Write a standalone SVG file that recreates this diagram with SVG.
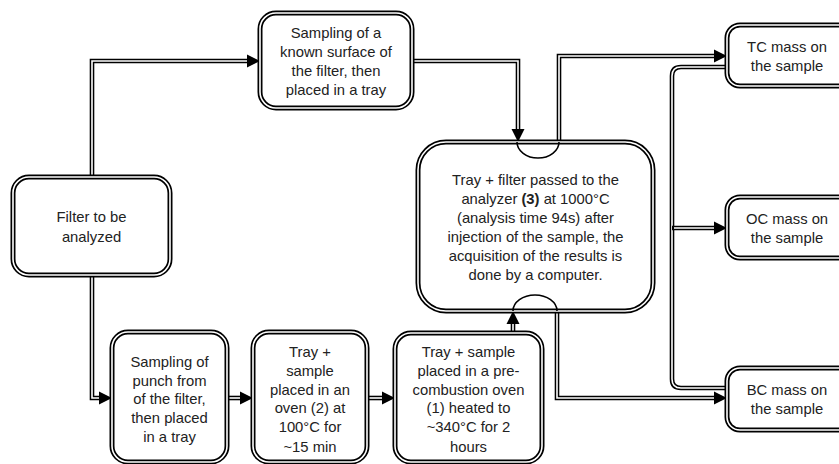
<svg xmlns="http://www.w3.org/2000/svg" xmlns:xlink="http://www.w3.org/1999/xlink" width="839" height="464" viewBox="0 0 839 464">
<style>
.bo{fill:#fff;stroke:#000;stroke-width:5}
.bi{fill:none;stroke:#fff;stroke-width:1.6}
.co{fill:none;stroke:#000;stroke-width:4.6}
.ci{fill:none;stroke:#fff;stroke-width:1.6}
.arc{fill:none;stroke:#000;stroke-width:1.6}
text{font-family:"Liberation Sans",Arial,sans-serif;font-size:14.8px;fill:#222;text-anchor:middle}
</style>
<defs>
<path id="ah" d="M0,0 L-13,-6.5 L-13,6.5 Z" fill="#000"/>
</defs>
<rect width="839" height="464" fill="#fff"/>
<g id="connectors">
<path class="co" d="M92,177 V61 H248"/><path class="ci" d="M92,177 V61 H248"/>
<use xlink:href="#ah" transform="translate(260,61)"/>
<path class="co" d="M92,275 V398 H100"/><path class="ci" d="M92,275 V398 H100"/>
<use xlink:href="#ah" transform="translate(112,398)"/>
<path class="co" d="M412,61 H518 V130"/><path class="ci" d="M412,61 H518 V130"/>
<use xlink:href="#ah" transform="translate(518,142) rotate(90)"/>
<path class="co" d="M559,142 V56 H715"/><path class="ci" d="M559,142 V56 H715"/>
<use xlink:href="#ah" transform="translate(727,56)"/>
<path class="co" d="M227,398 H241"/><path class="ci" d="M227,398 H241"/>
<use xlink:href="#ah" transform="translate(253,398)"/>
<path class="co" d="M367,398 H383"/><path class="ci" d="M367,398 H383"/>
<use xlink:href="#ah" transform="translate(395,398)"/>
<path class="co" d="M513,333 V323"/><path class="ci" d="M513,333 V323"/>
<use xlink:href="#ah" transform="translate(513,311) rotate(-90)"/>
<path class="co" d="M557,311 V398 H715"/><path class="ci" d="M557,311 V398 H715"/>
<use xlink:href="#ah" transform="translate(727,398)"/>
<path class="co" d="M727,67 H681 Q672,67 672,76 V379 Q672,388 681,388 H727"/><path class="ci" d="M727,67 H681 Q672,67 672,76 V379 Q672,388 681,388 H727"/>
<path class="co" d="M672,228 H715"/><path class="ci" d="M674,228 H715"/>
<use xlink:href="#ah" transform="translate(727,228)"/>
</g>
<g id="n-filter">
<rect class="bo" x="13" y="177" width="157" height="98" rx="16"/><rect class="bi" x="13" y="177" width="157" height="98" rx="16"/>
<text x="91.5" y="222">Filter to be</text><text x="91.5" y="242">analyzed</text>
</g>
<g id="n-surface">
<rect class="bo" x="260" y="13" width="152" height="95" rx="16"/><rect class="bi" x="260" y="13" width="152" height="95" rx="16"/>
<text x="336" y="38">Sampling of a</text><text x="336" y="57">known surface of</text><text x="336" y="76">the filter, then</text><text x="336" y="95">placed in a tray</text>
</g>
<g id="n-analyzer">
<rect class="bo" x="418" y="142" width="235" height="169" rx="28"/><rect class="bi" x="418" y="142" width="235" height="169" rx="28"/>
<text x="535.5" y="185">Tray + filter passed to the</text>
<text x="535.5" y="204">analyzer <tspan font-weight="bold">(3)</tspan> at 1000°C</text>
<text x="535.5" y="223">(analysis time 94s) after</text>
<text x="535.5" y="242">injection of the sample, the</text>
<text x="535.5" y="261">acquisition of the results is</text>
<text x="535.5" y="280">done by a computer.</text>
</g>
<g id="jumps">
<path class="arc" d="M517,142 A21,16 0 0 0 559,142"/>
<path class="arc" d="M513,311 A22,16 0 0 1 557,311"/>
</g>
<g id="n-tc">
<rect class="bo" x="727" y="25" width="125" height="61" rx="13"/><rect class="bi" x="727" y="25" width="125" height="61" rx="13"/>
<text x="787" y="52">TC mass on</text><text x="787" y="71">the sample</text>
</g>
<g id="n-oc">
<rect class="bo" x="727" y="197" width="125" height="61" rx="13"/><rect class="bi" x="727" y="197" width="125" height="61" rx="13"/>
<text x="787" y="224">OC mass on</text><text x="787" y="243">the sample</text>
</g>
<g id="n-bc">
<rect class="bo" x="727" y="368" width="125" height="62" rx="13"/><rect class="bi" x="727" y="368" width="125" height="62" rx="13"/>
<text x="787" y="395">BC mass on</text><text x="787" y="414">the sample</text>
</g>
<g id="n-punch">
<rect class="bo" x="112" y="332" width="115" height="130" rx="16"/><rect class="bi" x="112" y="332" width="115" height="130" rx="16"/>
<text x="169.5" y="367">Sampling of</text><text x="169.5" y="386">punch from</text><text x="169.5" y="404">of the filter,</text><text x="169.5" y="423">then placed</text><text x="169.5" y="442">in a tray</text>
</g>
<g id="n-oven">
<rect class="bo" x="253" y="332" width="114" height="130" rx="16"/><rect class="bi" x="253" y="332" width="114" height="130" rx="16"/>
<text x="310" y="357">Tray +</text><text x="310" y="376">sample</text><text x="310" y="395">placed in an</text><text x="310" y="413">oven (2) at</text><text x="310" y="432">100°C for</text><text x="310" y="452">~15 min</text>
</g>
<g id="n-precomb">
<rect class="bo" x="395" y="333" width="147" height="129" rx="16"/><rect class="bi" x="395" y="333" width="147" height="129" rx="16"/>
<text x="468.5" y="357">Tray + sample</text><text x="468.5" y="376">placed in a pre-</text><text x="468.5" y="395">combustion oven</text><text x="468.5" y="413">(1) heated to</text><text x="468.5" y="432">~340°C for 2</text><text x="468.5" y="452">hours</text>
</g>
</svg>
